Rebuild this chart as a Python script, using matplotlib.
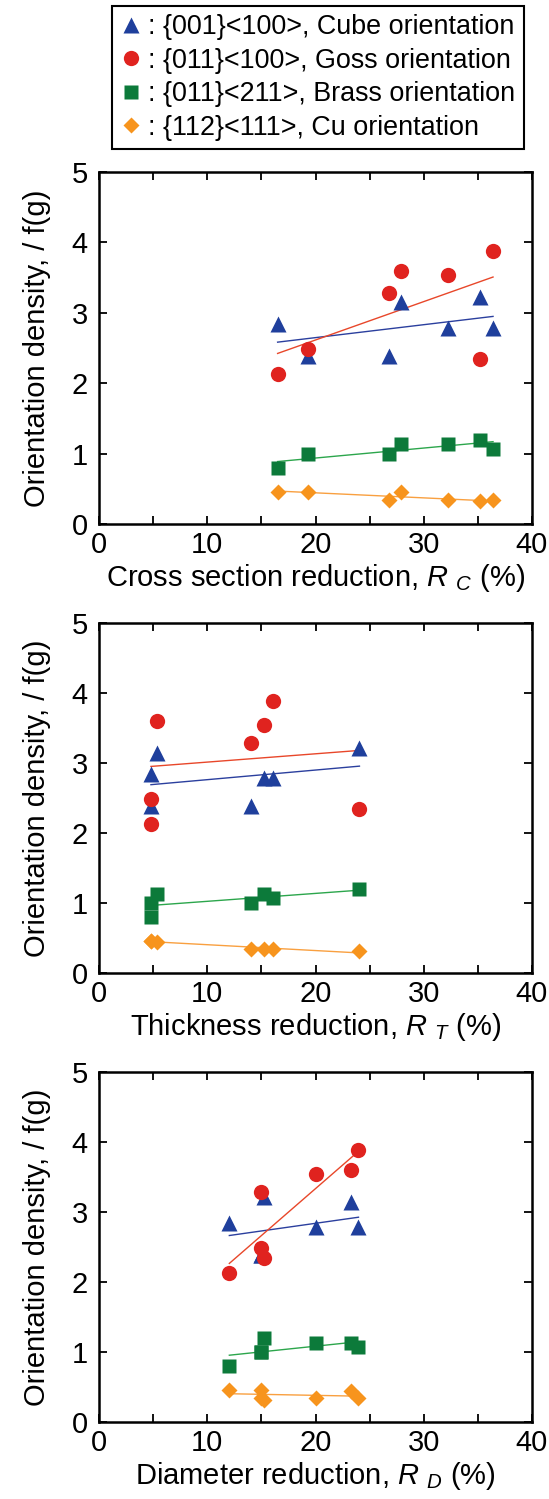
import numpy as np
import matplotlib
matplotlib.use('Agg')
import matplotlib.pyplot as plt
from matplotlib.lines import Line2D
from matplotlib.ticker import MultipleLocator

plt.rcParams['font.family'] = ['Liberation Sans', 'DejaVu Sans']
plt.rcParams['mathtext.fontset'] = 'custom'
plt.rcParams['mathtext.rm'] = 'Liberation Sans'
plt.rcParams['mathtext.it'] = 'Liberation Sans:italic'

# seven samples, reduction ratios (%)
r_c = [16.5, 19.35, 26.8, 27.9, 32.2, 35.2, 36.4]
r_t = [4.8, 4.8, 14.05, 5.33, 15.25, 24.06, 16.05]
r_d = [12.04, 14.97, 14.97, 23.26, 20.06, 15.25, 23.97]

# orientation density f(g) of each sample
cube = [2.84, 2.38, 2.38, 3.15, 2.78, 3.22, 2.78]
goss = [2.13, 2.49, 3.28, 3.60, 3.54, 2.34, 3.88]
brass = [0.80, 1.00, 1.00, 1.13, 1.13, 1.20, 1.07]
cu = [0.46, 0.46, 0.34, 0.45, 0.34, 0.32, 0.34]

labels = [': {001}<100>, Cube orientation',
          ': {011}<100>, Goss orientation',
          ': {011}<211>, Brass orientation',
          ': {112}<111>, Cu orientation']
xlabels = [r'Cross section reduction, $R$ $_{C}$ (%)',
           r'Thickness reduction, $R$ $_{T}$ (%)',
           r'Diameter reduction, $R$ $_{D}$ (%)']

# marker, size, marker colour, fit line colour
styles = [('^', 11, '#1f3f9c', '#2b3f9e'),
          ('o', 11, '#e0231f', '#e8472a'),
          ('s', 10.5, '#0c7a3a', '#2ca64c'),
          ('D', 8.5, '#f7941d', '#f9a040')]
series = [cube, goss, brass, cu]

fig = plt.figure(figsize=(5.49, 14.99), dpi=100)
W, H = 549.0, 1499.0
panels = [(172, 524), (623, 973), (1072, 1422)]

for k, xs in enumerate([r_c, r_t, r_d]):
    top, bot = panels[k]
    ax = fig.add_axes([99 / W, 1 - bot / H, 433 / W, (bot - top) / H])
    x = np.array(xs)
    for (m, ms, c, lc), ys in zip(styles, series):
        y = np.array(ys)
        ax.plot(x, y, m, ms=ms, color=c, mec='none', zorder=3)
        p = np.polyfit(x, y, 1)
        xx = np.array([x.min(), x.max()])
        ax.plot(xx, np.polyval(p, xx), '-', color=lc, lw=1.0, zorder=2)
    ax.set_xlim(0, 40)
    ax.set_ylim(0, 5)
    ax.xaxis.set_major_locator(MultipleLocator(10))
    ax.xaxis.set_minor_locator(MultipleLocator(5))
    ax.yaxis.set_major_locator(MultipleLocator(1))
    ax.tick_params(which='both', direction='in', top=True, right=True,
                   length=6, width=1.3, labelsize=21)
    ax.tick_params(axis='x', pad=5)
    ax.tick_params(axis='y', pad=8)
    for s in ax.spines.values():
        s.set_linewidth(1.8)
    ax.set_xlabel(xlabels[k], fontsize=21, labelpad=2)
    ax.set_ylabel('Orientation density, / f(g)', fontsize=21, labelpad=15)

handles = [Line2D([], [], ls='none', marker=m, ms=ms, color=c, mec='none')
           for m, ms, c, lc in styles]
leg = fig.legend(handles, labels, loc='upper left',
                 bbox_to_anchor=(112 / W, 1 - 6 / H), fontsize=19.4,
                 handlelength=0.8, handletextpad=0.25, labelspacing=0.28,
                 borderpad=0.3, borderaxespad=0, fancybox=False,
                 edgecolor='black', framealpha=1)
leg.get_frame().set_linewidth(1.5)

fig.savefig('out.png', dpi=100)
